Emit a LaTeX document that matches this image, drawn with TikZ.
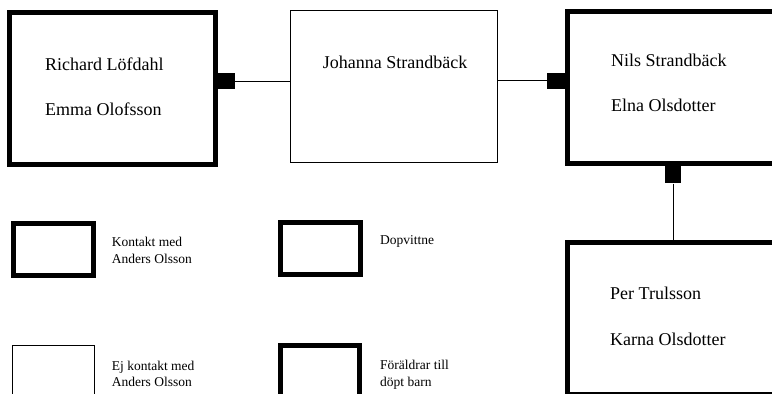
\documentclass[tikz,border=0pt]{standalone}
\usepackage{fontspec}
\setmainfont{Liberation Serif}
\usetikzlibrary{positioning}

\begin{document}
\begin{tikzpicture}[x=1pt, y=-1pt, every node/.style={inner sep=0pt},
    kontakt/.style={draw, line width=5pt, minimum width=206.5pt, minimum height=152pt},
    vittne/.style={draw, line width=1pt, minimum width=206.5pt, minimum height=152pt},
    knot/.style={fill=black, minimum width=17pt, minimum height=16pt},
    namn/.style={anchor=base west, font=\fontsize{18}{22}\selectfont},
    ikon/.style={draw, line width=5pt, minimum width=79.7pt, minimum height=51.7pt},
    tunn/.style={draw, line width=1pt, minimum width=82pt, minimum height=52pt},
    etikett/.style={anchor=base west, align=left, font=\fontsize{13.5}{16.7}\selectfont}]
    \useasboundingbox (0,0) rectangle (772,394);
    \clip (0,0) rectangle (772,394);

    \node[kontakt] (rl) at (112.25,88.5) {};
    \node[vittne] (js) at (393.75,86.7) {};
    \node[kontakt] (ns) at (671.05,87.2) {};
    \node[kontakt] (pt) at (670.75,318.8) {};

    \node[knot, right=0pt of rl, yshift=7.5pt] (k1) {};
    \node[knot, minimum width=18pt, left=0pt of ns, yshift=6.7pt] (k2) {};
    \node[knot, minimum width=16pt, minimum height=17.5pt, below=0pt of ns, xshift=2pt] (k3) {};

    \draw[line width=1pt] (k1) -- (k1 -| js.west);
    \draw[line width=1pt] (js.east |- k2) -- (k2);
    \draw[line width=1pt] (k3) -- (k3 |- pt.north);

    \node[namn] (rl1) at (45,70) {Richard Löfdahl};
    \node[namn] (rl2) at (45,115) {Emma Olofsson};
    \node[namn] (js1) at (322.7,68) {Johanna Strandbäck};
    \node[namn] (ns1) at (611,66.7) {Nils Strandbäck};
    \node[namn] (ns2) at (611,111.7) {Elna Olsdotter};
    \node[namn] (pt1) at (610,299.3) {Per Trulsson};
    \node[namn] (pt2) at (610,345) {Karna Olsdotter};

    % teckenförklaring
    \node[ikon] (la) at (53.4,249.4) {};
    \node[tunn] (lb) at (53,371) {};
    \node[ikon] (lc) at (320.35,248.7) {};
    \node[ikon] (ld) at (320.1,371.3) {};
    \node[etikett] (ta) at (111.7,263.3) {Kontakt med\\Anders Olsson};
    \node[etikett] (tb) at (111.7,386.7) {Ej kontakt med\\Anders Olsson};
    \node[etikett] (tc) at (380,244) {Dopvittne};
    \node[etikett] (td) at (380,386) {Föräldrar till\\döpt barn};
\end{tikzpicture}
\end{document}
